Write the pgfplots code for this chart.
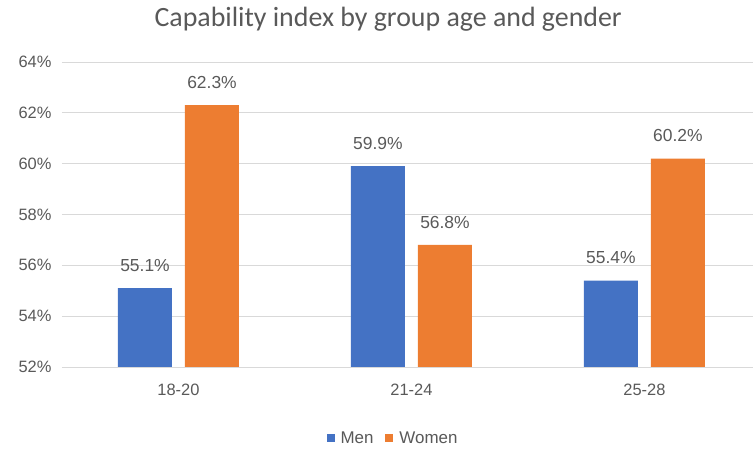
\documentclass[border=0pt]{standalone}
\usepackage{pgfplots}
\pgfplotsset{compat=1.18}
\usepackage{fontspec}
\setmainfont{Liberation Sans}
\newfontfamily\titlefont{Carlito}
\definecolor{cblue}{HTML}{4472C4}
\definecolor{corange}{HTML}{ED7D31}
\definecolor{cgrid}{HTML}{D9D9D9}
\definecolor{ctext}{HTML}{595959}
\begin{document}
\begin{tikzpicture}[x=1bp,y=1bp]
\path[use as bounding box] (-62,-86) rectangle (691,367);
\begin{axis}[
  scale only axis,
  width=691bp, height=305bp,
  at={(0,0)}, anchor=south west,
  xmin=-0.5, xmax=2.466,
  ymin=52, ymax=64,
  ytick={52,54,...,64},
  yticklabel={\pgfmathprintnumber[fixed,precision=0]{\tick}\%},
  /pgf/number format/assume math mode=true,
  xtick={0,1,2},
  xticklabels={18-20,21-24,25-28},
  ymajorgrids,
  grid style={cgrid, line width=0.9pt},
  axis line style={draw=none},
  major tick style={draw=none},
  tick label style={font=\fontsize{16.5}{19}\selectfont, text=ctext},
  yticklabel style={xshift=-7bp},
  xticklabel style={yshift=-9bp},
  ybar, bar width=54bp,
  nodes near coords={\pgfmathprintnumber[fixed,fixed zerofill,precision=1]{\pgfplotspointmeta}\%},
  nodes near coords style={font=\fontsize{17.5}{20}\selectfont, text=ctext, anchor=south, yshift=13bp},
  title={\titlefont\fontsize{28}{32}\selectfont Capability index by group age and gender},
  title style={text=ctext, at={(0.472,1)}, anchor=base, yshift=30bp},
  legend style={at={(0.479,-0.233)}, anchor=center, draw=none, legend columns=2,
    font=\fontsize{17}{19}\selectfont, text=ctext,
    /tikz/every odd column/.append style={column sep=4bp},
    /tikz/every even column/.append style={column sep=10bp}},
  legend image code/.code={\fill[#1] (0bp,-4bp) rectangle (8bp,4bp);},
  clip=false,
]
\addplot[fill=cblue, draw=none, bar shift=-33.5bp] coordinates {(0,55.1) (1,59.9) (2,55.4)};
\addplot[fill=corange, draw=none, bar shift=33.5bp] coordinates {(0,62.3) (1,56.8) (2,60.2)};
\legend{Men,Women}
\end{axis}
\end{tikzpicture}
\end{document}
